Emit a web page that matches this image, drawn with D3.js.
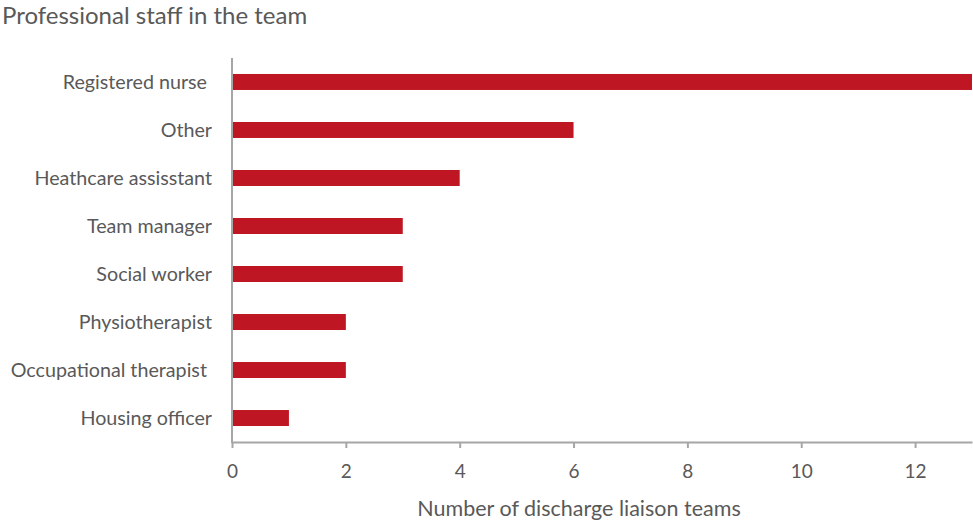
<!DOCTYPE html>
<html>
<head>
<meta charset="utf-8">
<script src="https://cdn.jsdelivr.net/npm/d3@7"></script>
<style>
  html, body { margin: 0; padding: 0; background: #fff; }
  svg { display: block; }
  text { font-family: Lato, "Open Sans", sans-serif; fill: #595959; }
</style>
</head>
<body>
<svg id="chart" width="973" height="522"></svg>
<script>
// Staff roles present in discharge liaison teams
const categories = [
  "Registered nurse ",
  "Other",
  "Heathcare assisstant",
  "Team manager",
  "Social worker",
  "Physiotherapist",
  "Occupational therapist ",
  "Housing officer"
];
const teamCounts = [13, 6, 4, 3, 3, 2, 2, 1];
const xTicks = [0, 2, 4, 6, 8, 10, 12];
const titleText = "Professional staff in the team";
const xAxisTitle = "Number of discharge liaison teams";

const W = 973, H = 522;
const plot = { left: 232, right: 972, top: 58, bottom: 442 };
const barColor = "#BE1622";
const axisColor = "#A6A6A6";

const svg = d3.select("#chart");

const x = d3.scaleLinear().domain([0, 13]).range([plot.left, plot.right]);
const y = d3.scaleBand()
  .domain(categories)
  .range([plot.top, plot.bottom])
  .paddingInner(0.667)
  .paddingOuter(0.333);

// Title
svg.append("text")
  .attr("x", 2)
  .attr("y", 24)
  .attr("font-size", 24)
  .text(titleText);

// Bars
svg.append("g")
  .selectAll("rect")
  .data(categories)
  .join("rect")
  .attr("x", x(0))
  .attr("y", d => y(d))
  .attr("width", (d, i) => x(teamCounts[i]) - x(0))
  .attr("height", y.bandwidth())
  .attr("fill", barColor);

// Category labels
svg.append("g")
  .selectAll("text")
  .data(categories)
  .join("text")
  .attr("x", 212)
  .attr("y", d => y(d) + y.bandwidth() / 2)
  .attr("dy", "0.35em")
  .attr("text-anchor", "end")
  .attr("font-size", 19.7)
  .style("white-space", "pre")
  .text(d => d);

// Left axis line
svg.append("line")
  .attr("x1", x(0)).attr("x2", x(0))
  .attr("y1", plot.top).attr("y2", plot.bottom + 1)
  .attr("stroke", axisColor)
  .attr("stroke-width", 2);

// Bottom axis
const xAxis = d3.axisBottom(x)
  .tickValues(xTicks)
  .tickSize(6)
  .tickSizeOuter(0)
  .tickPadding(17)
  .tickFormat(d3.format("d"));

const gx = svg.append("g")
  .attr("transform", `translate(0,${plot.bottom})`)
  .call(xAxis);
gx.select(".domain").attr("stroke", axisColor).attr("stroke-width", 2);
gx.selectAll(".tick line").attr("stroke", axisColor).attr("stroke-width", 2);
gx.selectAll(".tick text")
  .attr("font-family", "Lato, 'Open Sans', sans-serif")
  .attr("font-size", 19)
  .attr("fill", "#595959");

// Axis title
svg.append("text")
  .attr("x", (413 + 745) / 2)
  .attr("y", 516)
  .attr("text-anchor", "middle")
  .attr("font-size", 21.5)
  .text(xAxisTitle);
</script>
</body>
</html>
